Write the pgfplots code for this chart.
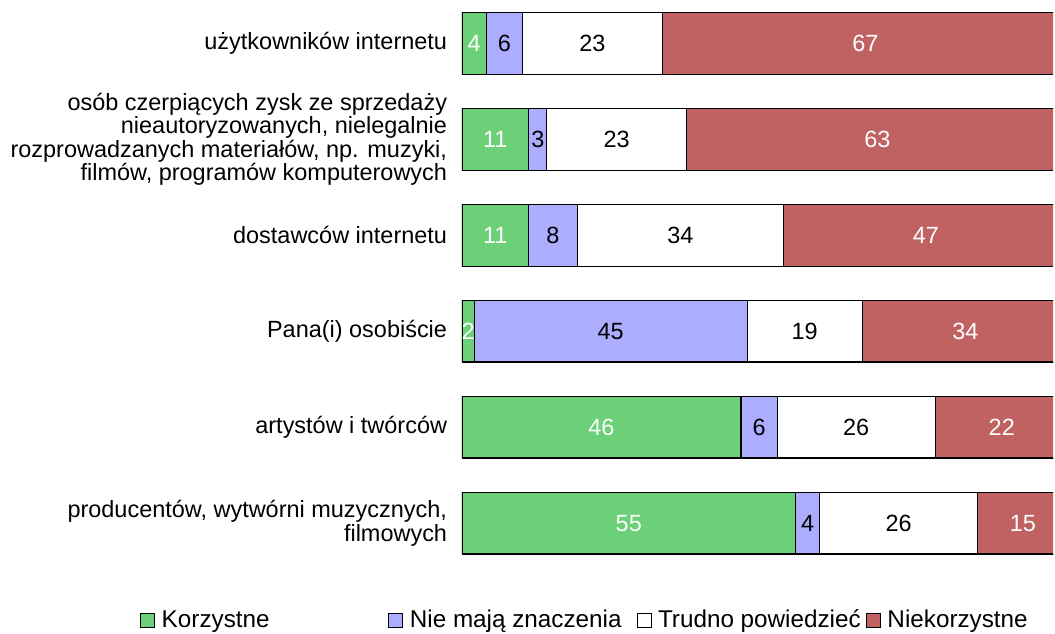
\documentclass[border=0pt]{standalone}
\usepackage{fontspec}
\setmainfont{Liberation Sans}
\usepackage{pgfplots}
\usepackage{pgfplotstable}
\pgfplotsset{compat=1.18}
\definecolor{kgreen}{HTML}{6BD077}
\definecolor{kblue}{HTML}{ADADFF}
\definecolor{kred}{HTML}{C06262}

% k = Korzystne, n = Nie mają znaczenia, t = Trudno powiedzieć, z = Niekorzystne
\pgfplotstableread{
y k n t z
0 55 4 26 15
1 46 6 26 22
2 2 45 19 34
3 11 8 34 47
4 11 3 23 63
5 4 6 23 67
}\dane

\newcommand{\lbl}{\fontsize{17.6}{17.6}\selectfont}
\newcommand{\leg}{\fontsize{18.2}{18.2}\selectfont}

\begin{document}
\begin{tikzpicture}
\path (-346.5pt,-46.24pt) rectangle (444.75pt,428.51pt);
\begin{axis}[
  at={(0,0)}, anchor=south west,
  scale only axis, width=443.25pt, height=428.5pt,
  xbar stacked, bar width=0.639,
  xmin=0, xmax=97.45, ymin=-0.5, ymax=5.4516,
  axis line style={draw=none}, major tick length=0pt,
  xtick=\empty, ytick={0,...,5},
  yticklabels={{producentów, wytwórni muzycznych,\\filmowych},
    {artystów i twórców}, {Pana(i) osobiście}, {dostawców internetu},
    {osób czerpiących zysk ze sprzedaży\\nieautoryzowanych, nielegalnie\\rozprowadzanych materiałów, np. muzyki,\\filmów, programów komputerowych},
    {użytkowników internetu}},
  yticklabel style={align=right, font=\lbl, inner sep=0pt, xshift=-11pt},
  legend image code/.code={\draw[#1,draw=black,line width=0.6pt] (0pt,-5.25pt) rectangle (10.5pt,5.25pt);},
  legend columns=4,
  legend style={at={(axis description cs:-0.5448,-0.0852)}, anchor=west,
    draw=none, fill=none, inner sep=0pt, column sep=0pt, font=\leg,
    cells={anchor=west, inner sep=0pt}},
]
\addplot[fill=kgreen, draw=black, line width=0.8pt] table[x=k, y=y] {\dane};
\addlegendentry{\makebox[171pt][l]{\hspace*{3pt}Korzystne}}
\addplot[fill=kblue, draw=black, line width=0.8pt] table[x=n, y=y] {\dane};
\addlegendentry{\makebox[171pt][l]{\hspace*{3pt}Nie mają znaczenia}}
\addplot[fill=white, draw=black, line width=0.8pt] table[x=t, y=y] {\dane};
\addlegendentry{\makebox[157pt][l]{\hspace*{3pt}Trudno powiedzieć}}
\addplot[fill=kred, draw=black, line width=0.8pt] table[x=z, y=y] {\dane};
\addlegendentry{\hspace*{3pt}Niekorzystne}
\end{axis}
\begin{axis}[
  at={(0,0)}, anchor=south west,
  scale only axis, width=443.25pt, height=428.5pt,
  xmin=0, xmax=97.45, ymin=-0.5, ymax=5.4516,
  hide axis, clip=false,
  /pgf/number format/assume math mode=true,
  nodes near coords, point meta=explicit,
  nodes near coords align={anchor=center},
  every node near coord/.append style={font=\lbl, inner sep=0pt},
]
\addplot[draw=none, mark=none, every node near coord/.append style={text=white}]
  table[x expr={\thisrow{k}/2}, y=y, meta=k] {\dane};
\addplot[draw=none, mark=none, every node near coord/.append style={text=black}]
  table[x expr={\thisrow{k}+\thisrow{n}/2}, y=y, meta=n] {\dane};
\addplot[draw=none, mark=none, every node near coord/.append style={text=black}]
  table[x expr={\thisrow{k}+\thisrow{n}+\thisrow{t}/2}, y=y, meta=t] {\dane};
\addplot[draw=none, mark=none, every node near coord/.append style={text=white}]
  table[x expr={\thisrow{k}+\thisrow{n}+\thisrow{t}+\thisrow{z}/2}, y=y, meta=z] {\dane};
\end{axis}
\end{tikzpicture}
\end{document}
